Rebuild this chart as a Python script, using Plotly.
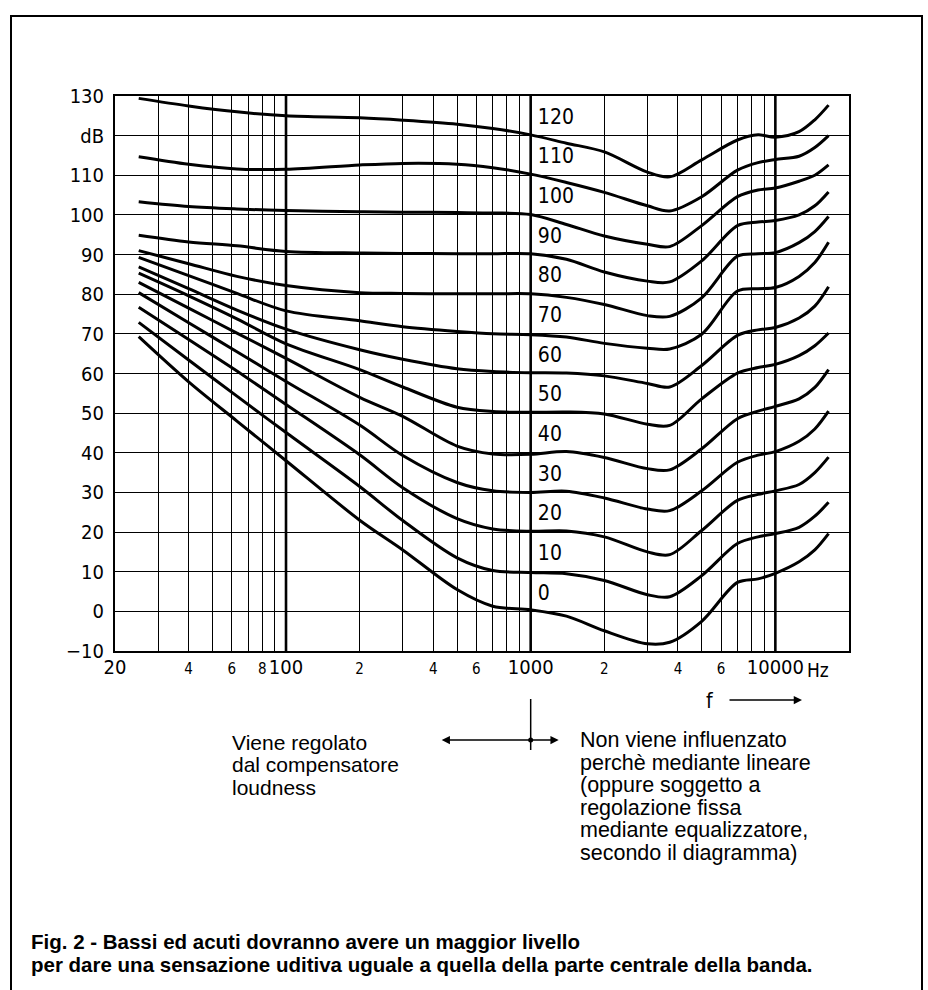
import numpy as np
import plotly.graph_objects as go

FREQ = [25, 40, 63, 100, 200, 300, 500, 700, 1000, 1400, 2000, 3000, 3700,
        5000, 7000, 8500, 10000, 12500, 14500, 16500]

# sound pressure level (dB) of each equal-loudness contour (phon)
PHON_120 = [129.4, 127.5, 126.0, 125.0, 124.5, 123.9, 122.9, 121.8, 120.2, 118.1, 115.9, 110.8, 109.6,
            113.9, 118.9, 120.2, 119.6, 121.0, 124.0, 127.7]
PHON_110 = [114.7, 112.8, 111.6, 111.5, 112.6, 113.0, 112.8, 111.9, 110.3, 108.2, 105.7, 102.3, 101.0,
            104.6, 111.3, 113.2, 114.0, 114.8, 117.0, 120.0]
PHON_100 = [103.3, 102.1, 101.5, 101.1, 100.8, 100.7, 100.6, 100.5, 100.1, 97.6, 94.7, 92.6, 92.0,
            97.3, 104.6, 106.3, 106.8, 108.5, 110.0, 112.6]
PHON_90 = [94.9, 93.2, 92.2, 90.8, 90.4, 90.3, 90.2, 90.2, 90.2, 88.8, 85.6, 83.3, 83.1,
           88.4, 97.3, 98.2, 98.6, 100.0, 102.3, 105.8]
PHON_80 = [91.0, 87.7, 84.5, 82.2, 80.4, 80.2, 80.1, 80.1, 80.1, 79.2, 77.4, 74.6, 74.4,
           79.1, 89.6, 90.2, 90.5, 93.0, 95.8, 99.6]
PHON_70 = [89.3, 84.7, 80.2, 75.8, 73.3, 71.8, 70.6, 70.0, 69.8, 69.2, 67.6, 66.4, 66.2,
           69.9, 80.8, 81.4, 81.7, 84.5, 88.0, 93.1]
PHON_60 = [86.9, 81.4, 76.0, 71.2, 66.0, 63.6, 61.2, 60.5, 60.2, 60.1, 59.4, 57.5, 56.6,
           62.0, 69.6, 71.0, 71.6, 74.0, 77.0, 81.9]
PHON_50 = [85.3, 79.6, 73.8, 67.5, 61.0, 56.6, 51.5, 50.4, 50.2, 50.3, 49.8, 47.2, 46.9,
           53.6, 60.1, 61.5, 62.3, 64.5, 67.0, 70.2]
PHON_40 = [83.0, 76.5, 70.2, 63.8, 54.0, 49.2, 41.7, 39.7, 39.6, 40.3, 38.8, 36.0, 35.7,
           41.0, 48.6, 50.5, 51.7, 53.6, 56.5, 61.0]
PHON_30 = [80.4, 72.8, 65.5, 58.0, 47.0, 39.3, 32.5, 30.4, 30.0, 30.3, 28.6, 25.8, 25.4,
           30.4, 37.6, 39.4, 40.3, 42.9, 46.0, 50.5]
PHON_20 = [76.7, 68.6, 60.6, 52.2, 39.5, 31.2, 23.4, 20.8, 20.2, 20.3, 18.8, 15.0, 14.3,
           20.4, 28.0, 29.5, 30.4, 32.0, 35.0, 38.9]
PHON_10 = [72.9, 63.4, 54.3, 45.1, 31.5, 22.9, 13.5, 10.3, 9.8, 9.5, 7.8, 4.2, 3.7,
           9.0, 17.1, 18.8, 19.6, 21.2, 24.0, 27.5]
PHON_0 = [69.3, 57.9, 48.0, 38.0, 23.0, 15.5, 5.5, 1.3, 0.4, -1.2, -4.9, -8.2, -7.8,
          -2.5, 7.3, 8.2, 9.6, 12.5, 15.5, 19.6]

CURVES = {120: PHON_120, 110: PHON_110, 100: PHON_100, 90: PHON_90, 80: PHON_80,
          70: PHON_70, 60: PHON_60, 50: PHON_50, 40: PHON_40, 30: PHON_30,
          20: PHON_20, 10: PHON_10, 0: PHON_0}

# axes
GRID_F = [20, 30, 40, 50, 60, 70, 80, 90,
          100, 200, 300, 400, 500, 600, 700, 800, 900,
          1000, 2000, 3000, 4000, 5000, 6000, 7000, 8000, 9000, 10000]
BIG_LABELS = {20: "20", 100: "100", 1000: "1000", 10000: "10000"}
SMALL_LABELS = {40: "4", 60: "6", 80: "8", 200: "2", 400: "4", 600: "6",
                2000: "2", 4000: "4", 6000: "6"}
DECADES = [100, 1000, 10000]
Y_TICKS = list(range(-10, 140, 10))
Y_LABELS = ["\u221210" if v == -10 else ("dB" if v == 120 else str(v)) for v in Y_TICKS]

NOTE_LEFT = ["Viene regolato", "dal compensatore", "loudness"]
NOTE_RIGHT = ["Non viene influenzato", "perchè mediante lineare", "(oppure soggetto a",
              "regolazione fissa", "mediante equalizzatore,", "secondo il diagramma)"]
CAPTION = ["Fig. 2 - Bassi ed acuti dovranno avere un maggior livello",
           "per dare una sensazione uditiva uguale a quella della parte centrale della banda."]

W, H = 928, 990
ML, MR, MT, MB = 115, 79, 96, 339
PW, PH = W - ML - MR, H - MT - MB
NARROW = "DejaVu Sans Condensed, Liberation Sans Narrow, sans-serif"
SANS = "Liberation Sans, Arial, Helvetica, sans-serif"


def pxx(x):
    return (x - ML) / PW


def pxy(y):
    return (H - MB - y) / PH


xt = []
for f in GRID_F:
    if f in BIG_LABELS:
        xt.append(BIG_LABELS[f])
    elif f in SMALL_LABELS:
        xt.append('<span style="font-size:15px">' + SMALL_LABELS[f] + '</span>')
    else:
        xt.append("")

fig = go.Figure()

# heavier decade lines
for d in DECADES:
    fig.add_trace(go.Scatter(x=[d, d], y=[-10, 130], mode="lines",
                             line=dict(color="black", width=2.6),
                             hoverinfo="skip", showlegend=False))

for lvl, vals in CURVES.items():
    fig.add_trace(go.Scatter(x=FREQ, y=vals, mode="lines",
                             line=dict(color="black", width=3, shape="spline", smoothing=0.9),
                             name=str(lvl), hoverinfo="skip", showlegend=False))

levels = list(CURVES.keys())
fig.add_trace(go.Scatter(x=[1070] * len(levels), y=[l + 4.3 for l in levels],
                         mode="text", text=[str(l) for l in levels],
                         textposition="middle right",
                         textfont=dict(family=NARROW, size=21, color="black"),
                         hoverinfo="skip", showlegend=False))

fig.update_xaxes(type="log", range=[np.log10(20), np.log10(20000)],
                 tickvals=GRID_F, ticktext=xt, ticks="", tickangle=0, ticklabelstandoff=-3,
                 showgrid=True, gridcolor="black", gridwidth=1.4, automargin=False,
                 showline=True, linecolor="black", linewidth=2, mirror=True,
                 tickfont=dict(family=NARROW, size=20, color="black"), zeroline=False)
fig.update_yaxes(range=[-10, 130], tickvals=Y_TICKS, ticktext=Y_LABELS, ticks="",
                 ticklabelstandoff=5, showgrid=True, gridcolor="black", gridwidth=1.4,
                 showline=True, linecolor="black", linewidth=2, mirror=True, automargin=False,
                 tickfont=dict(family=NARROW, size=20, color="black"), zeroline=False)

ann = []
ann.append(dict(x=pxx(805), y=pxy(670), xref="paper", yref="paper", text="Hz",
                showarrow=False, xanchor="left", yanchor="middle",
                font=dict(family=NARROW, size=19, color="black")))
ann.append(dict(x=pxx(710), y=pxy(701), xref="paper", yref="paper", text="f",
                showarrow=False, xanchor="center", yanchor="middle",
                font=dict(family=NARROW, size=21, color="black")))
ann.append(dict(x=pxx(802), y=pxy(700), xref="paper", yref="paper", text="",
                showarrow=True, ax=-74, ay=0, arrowhead=2, arrowsize=1.1,
                arrowwidth=1.5, arrowcolor="black"))

x1000 = (np.log10(1000) - np.log10(20)) / 3
ann.append(dict(x=x1000 - 89 / PW, y=pxy(740), xref="paper", yref="paper", text="",
                showarrow=True, ax=89, ay=0, arrowhead=2, arrowsize=1.1,
                arrowwidth=1.5, arrowcolor="black"))
ann.append(dict(x=x1000 + 28 / PW, y=pxy(740), xref="paper", yref="paper", text="",
                showarrow=True, ax=-28, ay=0, arrowhead=2, arrowsize=1.1,
                arrowwidth=1.5, arrowcolor="black"))

for i, line in enumerate(NOTE_LEFT):
    ann.append(dict(x=pxx(230), y=pxy(742 + 22.5 * i), xref="paper", yref="paper",
                    text=line, showarrow=False, xanchor="left", yanchor="middle",
                    font=dict(family=SANS, size=21, color="black")))
for i, line in enumerate(NOTE_RIGHT):
    ann.append(dict(x=pxx(578), y=pxy(740 + 22.5 * i), xref="paper", yref="paper",
                    text=line, showarrow=False, xanchor="left", yanchor="middle",
                    font=dict(family=SANS, size=21.5, color="black")))
for i, line in enumerate(CAPTION):
    ann.append(dict(x=pxx(29), y=pxy(941 + 23 * i), xref="paper", yref="paper",
                    text="<b>" + line + "</b>", showarrow=False, xanchor="left",
                    yanchor="middle", font=dict(family=SANS, size=20.5, color="black")))

shapes = []
shapes.append(dict(type="line", xref="paper", yref="paper", x0=x1000, x1=x1000,
                   y0=pxy(699), y1=pxy(750), line=dict(color="black", width=1.5)))
shapes.append(dict(type="circle", xref="paper", yref="paper",
                   x0=x1000 - 2.5 / PW, x1=x1000 + 2.5 / PW,
                   y0=pxy(742.5), y1=pxy(737.5), fillcolor="black",
                   line=dict(color="black", width=0)))
# page frame (open at the bottom)
fx0, fx1, fy0, fy1 = pxx(11), pxx(922), pxy(16), pxy(1000)
shapes.append(dict(type="path", xref="paper", yref="paper",
                   path=f"M {fx0},{fy1} L {fx0},{fy0} L {fx1},{fy0} L {fx1},{fy1}",
                   line=dict(color="black", width=2)))

fig.update_layout(width=W, height=H, margin=dict(l=ML, r=MR, t=MT, b=MB),
                  paper_bgcolor="white", plot_bgcolor="white",
                  annotations=ann, shapes=shapes, showlegend=False)

# the page body has a default 8px margin; drop it so the figure sits at the origin
fig.write_html("out.html", config={"displayModeBar": False},
               post_script="document.body.style.margin='0px';")
